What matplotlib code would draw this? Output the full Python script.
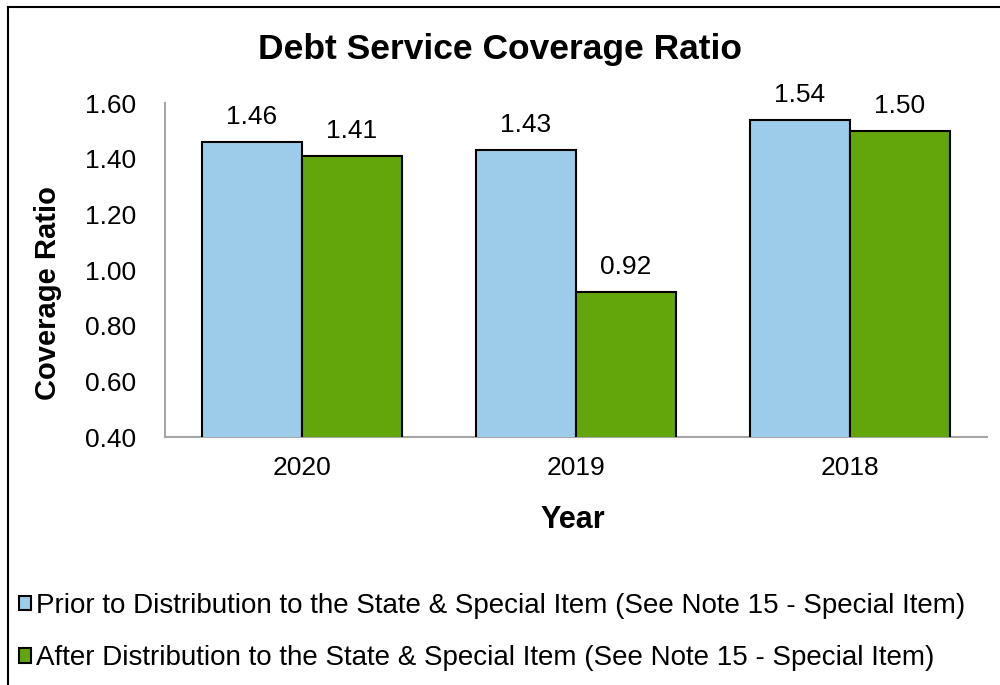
import matplotlib
matplotlib.use("Agg")
import matplotlib.pyplot as plt
from matplotlib.lines import Line2D
from matplotlib.patches import Patch

plt.rcParams['font.family'] = ['Liberation Sans', 'DejaVu Sans']

years = ['2020', '2019', '2018']
prior = [1.46, 1.43, 1.54]
after = [1.41, 0.92, 1.50]
prior_label = 'Prior to Distribution to the State & Special Item (See Note 15 - Special Item)'
after_label = 'After Distribution to the State & Special Item (See Note 15 - Special Item)'
yticks = [0.40, 0.60, 0.80, 1.00, 1.20, 1.40, 1.60]

blue = '#9DCBEA'
green = '#63A60C'

fig = plt.figure(figsize=(10, 6.85), dpi=100)
ax = fig.add_axes([0.165, 0.362, 0.822, 0.4876])

x = range(len(years))
w = 0.365
b1 = ax.bar([i - w / 2 for i in x], prior, w, color=blue, edgecolor='black', linewidth=1.5, zorder=3)
b2 = ax.bar([i + w / 2 for i in x], after, w, color=green, edgecolor='black', linewidth=1.5, zorder=3)

for bars in (b1, b2):
    for r in bars:
        ax.annotate(f'{r.get_height():.2f}', (r.get_x() + r.get_width() / 2, r.get_height()),
                    xytext=(0, 18), textcoords='offset points', ha='center', va='center',
                    fontsize=19)

ax.set_xlim(-0.5, 2.5)
ax.set_ylim(0.4, 1.6)
ax.set_yticks(yticks)
ax.set_yticklabels([f'{v:.2f}' for v in yticks])
ax.set_xticks(list(x))
ax.set_xticklabels(years)
ax.tick_params(axis='y', length=0, pad=21, labelsize=19)
ax.tick_params(axis='x', length=0, pad=14, labelsize=19)
for s in ('top', 'right'):
    ax.spines[s].set_visible(False)
for s in ('left', 'bottom'):
    ax.spines[s].set_color('#A6A6A6')
    ax.spines[s].set_linewidth(1.5)

fig.text(0.5, 1 - 50 / 685, 'Debt Service Coverage Ratio', ha='center', va='center',
         fontsize=25.5, fontweight='bold')
fig.text(0.048, 1 - 293 / 685, 'Coverage Ratio', rotation=90, ha='center', va='center',
         fontsize=21, fontweight='bold')
fig.text(0.573, 1 - 520 / 685, 'Year', ha='center', va='center', fontsize=22, fontweight='bold')

handles = [Patch(facecolor=blue, edgecolor='black', linewidth=1.5),
           Patch(facecolor=green, edgecolor='black', linewidth=1.5)]
fig.legend(handles, [prior_label, after_label], loc='center left',
           bbox_to_anchor=(0.019, 1 - 632 / 685), frameon=False, fontsize=20,
           handlelength=0.43, handleheight=0.43, handletextpad=0.2, labelspacing=0.95,
           borderpad=0, borderaxespad=0)

# outer frame (top and left edges only visible)
fig.add_artist(Line2D([0.008, 1.0], [1 - 7 / 685, 1 - 7 / 685], transform=fig.transFigure,
                      color='black', linewidth=1.5))
fig.add_artist(Line2D([0.008, 0.008], [0, 1 - 7 / 685], transform=fig.transFigure,
                      color='black', linewidth=1.5))

fig.savefig('out.png', dpi=100)
